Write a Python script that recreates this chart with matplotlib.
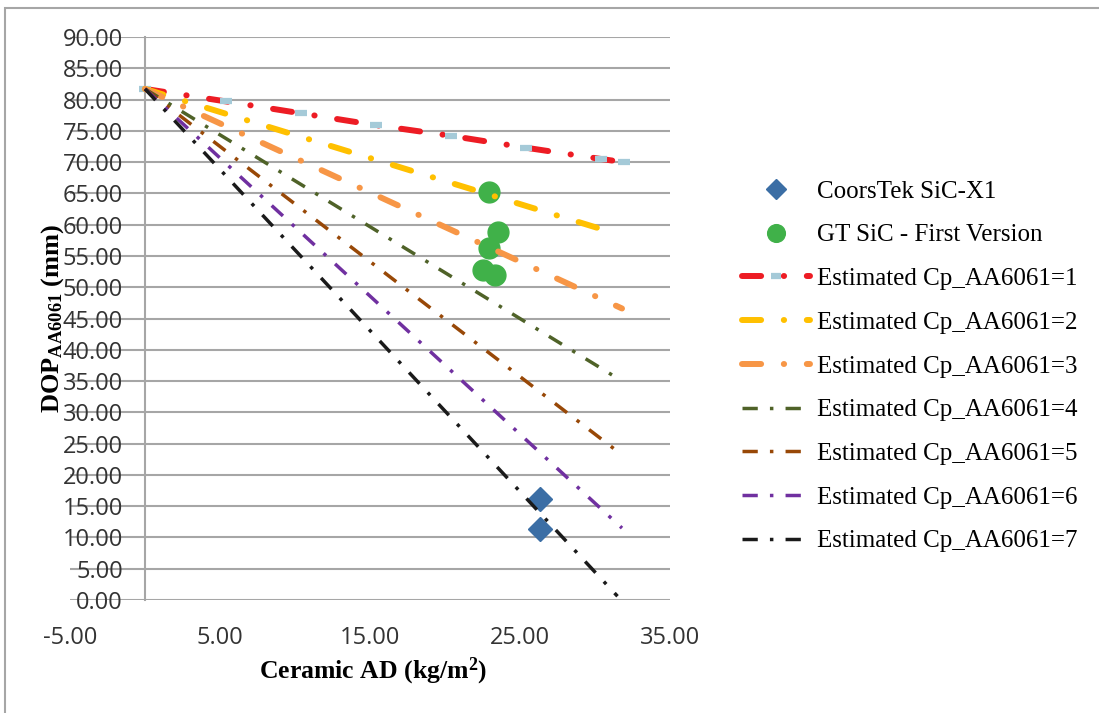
import numpy as np
import matplotlib.pyplot as plt
from matplotlib.patches import Rectangle

# measured points
coors_ad = [26.3, 26.3]
coors_dop = [16.1, 11.3]
gt_ad = [22.9, 23.5, 22.9, 22.5, 23.3]
gt_dop = [65.3, 58.9, 56.2, 52.7, 51.9]

# estimated lines
cp1_ad = [0.0, 5.4, 10.4, 15.4, 20.4, 25.4, 30.4, 31.9]
cp1_dop = [81.7, 79.7, 77.8, 75.9, 74.2, 72.3, 70.5, 70.0]
cp2_ad = [0.0, 31.1]
cp2_dop = [81.7, 58.8]
cp3_ad = [0.0, 31.8]
cp3_dop = [81.7, 46.6]
cp4_ad = [0.0, 31.8]
cp4_dop = [81.7, 35.0]
cp5_ad = [0.0, 31.8]
cp5_dop = [81.7, 23.2]
cp6_ad = [0.0, 31.8]
cp6_dop = [81.7, 11.5]
cp7_ad = [0.0, 31.5]
cp7_dop = [81.7, 0.6]

x_ticks = [-5, 5, 15, 25, 35]
y_ticks = np.arange(0, 95, 5)

serif = 'Liberation Serif'
plt.rcParams['mathtext.fontset'] = 'custom'
plt.rcParams['mathtext.rm'] = 'Liberation Serif:bold'
plt.rcParams['mathtext.it'] = 'Liberation Serif:bold'

W, H = 1099, 713
fig = plt.figure(figsize=(W / 100, H / 100), dpi=100)
ax = fig.add_axes([70 / W, 1 - 600 / H, 600 / W, 563 / H])

grid_c = '#a6a6a6'

ax.plot(coors_ad, coors_dop, linestyle='none', marker='D', ms=12, color='#3b6ea5',
        label='CoorsTek SiC-X1', zorder=3)
ax.plot(gt_ad, gt_dop, linestyle='none', marker='o', ms=15, color='#40b149',
        label='GT SiC - First Version', zorder=3)

thick = [(cp1_ad, cp1_dop, '#ed1c24'), (cp2_ad, cp2_dop, '#ffc000'), (cp3_ad, cp3_dop, '#f79646')]
thin = [(cp4_ad, cp4_dop, '#4f6228'), (cp5_ad, cp5_dop, '#984807'),
        (cp6_ad, cp6_dop, '#7030a0'), (cp7_ad, cp7_dop, '#1a1a1a')]

k = 1
for xs, ys, c in thick:
    ln, = ax.plot(xs, ys, color=c, lw=4.3, dash_capstyle='round',
                  label='Estimated Cp_AA6061=%d' % k, zorder=4)
    ln.set_dashes([3.2, 3.8, 0.05, 3.8])
    if k == 1:
        ln.set_marker('_')
        ln.set_markersize(9)
        ln.set_markeredgewidth(4.5)
        ln.set_markeredgecolor('#a5cad8')
        ln.set_markerfacecolor('#a5cad8')
    k += 1
for xs, ys, c in thin:
    ln, = ax.plot(xs, ys, color=c, lw=2.5, dash_capstyle='butt',
                  label='Estimated Cp_AA6061=%d' % k, zorder=4)
    ln.set_dashes([4.4, 3.5, 1.0, 3.5])
    k += 1

ax.set_xlim(-5, 35)
ax.set_ylim(0, 90)
ax.set_xticks(x_ticks)
ax.set_xticklabels(['%.2f' % v for v in x_ticks])
ax.set_yticks(y_ticks)
ax.set_yticklabels(['%.2f' % v for v in y_ticks])
ax.yaxis.grid(True, color=grid_c, lw=1.5)
ax.set_axisbelow(True)
for s in ['top', 'right', 'bottom']:
    ax.spines[s].set_visible(False)
ax.spines['left'].set_position(('data', 0))
ax.spines['left'].set_color(grid_c)
ax.spines['left'].set_linewidth(1.5)
ax.tick_params(length=0, labelsize=17, colors='#333333')
ax.tick_params(axis='y', pad=16)
ax.tick_params(axis='x', pad=19)
for t in ax.get_xticklabels() + ax.get_yticklabels():
    t.set_fontfamily('Open Sans')

fig.text(373 / W, 1 - 671 / H, 'Ceramic AD (kg/m$^{\\mathregular{2}}$)', family=serif,
         weight='bold', fontsize=18.5, ha='center', va='center')
fig.text(53 / W, 1 - 318 / H, 'DOP$_{\\mathregular{AA6061}}$ (mm)', family=serif,
         weight='bold', fontsize=19, ha='center', va='center', rotation=90)

leg = fig.legend(loc='upper left', bbox_to_anchor=(742 / W, 1 - 180 / H), frameon=False,
                 prop={'family': serif, 'size': 18}, handlelength=2.7, handletextpad=0.3,
                 labelspacing=0.85, borderpad=0, borderaxespad=0, markerscale=0.85)

fig.patches.append(Rectangle((5 / W, -0.05), 1.1, 0.05 + 1 - 8 / H, transform=fig.transFigure,
                             fill=False, edgecolor=grid_c, lw=1.5))

fig.savefig('out.png', dpi=100)
